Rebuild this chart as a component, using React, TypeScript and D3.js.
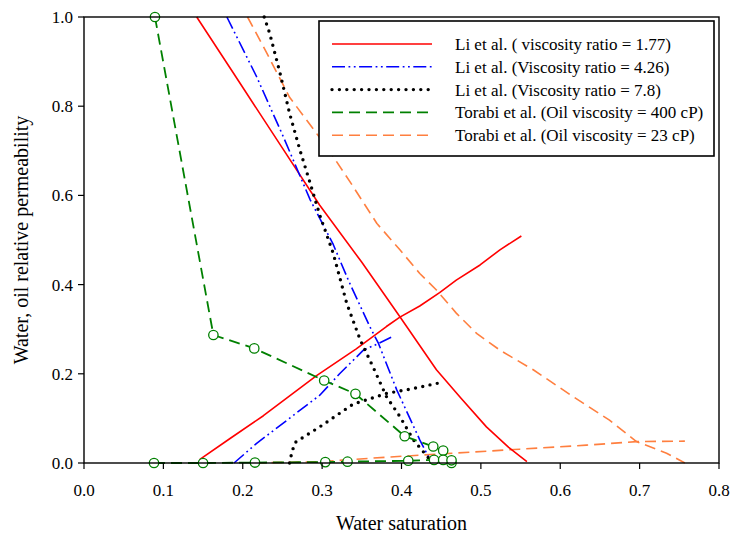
import React from "react";
import * as d3 from "d3";

type P = [number, number];

// Li et al. (viscosity ratio = 1.77)
const li177Oil: P[] = [[0.142,1.0],[0.196,0.853],[0.25,0.706],[0.297,0.578],[0.35,0.45],[0.398,0.328],[0.444,0.209],[0.475,0.145],[0.507,0.081],[0.535,0.035],[0.558,0.003]];
const li177Water: P[] = [[0.146,0.008],[0.184,0.055],[0.226,0.106],[0.293,0.196],[0.343,0.256],[0.381,0.306],[0.398,0.327],[0.423,0.352],[0.448,0.382],[0.469,0.41],[0.499,0.444],[0.524,0.478],[0.551,0.509]];
// Li et al. (Viscosity ratio = 4.26)
const li426Oil: P[] = [[0.18,1.0],[0.2175,0.866],[0.251,0.732],[0.285,0.59],[0.314,0.49],[0.333,0.41],[0.36,0.306],[0.371,0.268],[0.394,0.164],[0.423,0.052],[0.438,0.0]];
const li426Water: P[] = [[0.189,0.0],[0.2175,0.044],[0.297,0.152],[0.322,0.2],[0.352,0.253],[0.371,0.268],[0.388,0.283]];
// Li et al. (Viscosity ratio = 7.8)
const li78Oil: P[] = [[0.227,1.0],[0.234,0.963],[0.247,0.874],[0.259,0.784],[0.272,0.702],[0.285,0.627],[0.297,0.556],[0.314,0.47],[0.331,0.358],[0.348,0.276],[0.364,0.216],[0.381,0.149],[0.398,0.104],[0.415,0.052],[0.436,0.007]];
const li78Water: P[] = [[0.259,0.0],[0.262,0.025],[0.266,0.046],[0.28,0.062],[0.297,0.081],[0.339,0.132],[0.381,0.156],[0.415,0.167],[0.446,0.179]];
// Torabi et al. (Oil viscosity = 400 cP)
const torabi400Oil: P[] = [[0.0894,1.0],[0.163,0.287],[0.2145,0.257],[0.3026,0.185],[0.342,0.155],[0.404,0.06],[0.44,0.037],[0.4525,0.028],[0.463,0.0]];
const torabi400Water: P[] = [[0.0882,0.0],[0.15,0.0],[0.2154,0.001],[0.304,0.002],[0.332,0.003],[0.4085,0.005],[0.441,0.007],[0.4525,0.007],[0.463,0.006]];
// Torabi et al. (Oil viscosity = 23 cP)
const torabi23Oil: P[] = [[0.206,1.0],[0.23,0.92],[0.259,0.82],[0.293,0.739],[0.314,0.687],[0.339,0.62],[0.369,0.537],[0.398,0.478],[0.423,0.425],[0.444,0.388],[0.469,0.336],[0.495,0.29],[0.524,0.253],[0.566,0.209],[0.616,0.149],[0.662,0.096],[0.696,0.048],[0.734,0.022],[0.757,0.0]];
const torabi23Water: P[] = [[0.215,0.0],[0.297,0.003],[0.381,0.013],[0.465,0.022],[0.549,0.031],[0.633,0.04],[0.696,0.048],[0.757,0.049]];

const xTicks = [0, 0.1, 0.2, 0.3, 0.4, 0.5, 0.6, 0.7, 0.8];
const yTicks = [0, 0.2, 0.4, 0.6, 0.8, 1.0];
const legendLabels = [
  "Li et al. ( viscosity ratio = 1.77)",
  "Li et al. (Viscosity ratio = 4.26)",
  "Li et al. (Viscosity ratio = 7.8)",
  "Torabi et al. (Oil viscosity = 400 cP)",
  "Torabi et al. (Oil viscosity = 23 cP)",
];

const FONT = "'Liberation Serif', 'Times New Roman', serif";

const styles = [
  { stroke: "#ff0000", width: 1.6, dash: undefined as string | undefined, cap: "butt" },
  { stroke: "#0000ff", width: 1.6, dash: "13,3.5,1.8,3.5,1.8,3.5", cap: "butt" },
  { stroke: "#000000", width: 3.4, dash: "0,7.4", cap: "round" },
  { stroke: "#008000", width: 1.8, dash: "11,6", cap: "butt" },
  { stroke: "#ff7f3f", width: 1.6, dash: "11,6", cap: "butt" },
];

export default function App() {
  const W = 731, H = 540;
  const x = d3.scaleLinear().domain([0, 0.8]).range([84, 719]);
  const y = d3.scaleLinear().domain([0, 1]).range([463, 17]);
  const line = d3.line<P>().x(d => x(d[0])).y(d => y(d[1]));

  const series: { data: P[]; s: number }[] = [
    { data: torabi23Oil, s: 4 },
    { data: torabi23Water, s: 4 },
    { data: li177Oil, s: 0 },
    { data: li177Water, s: 0 },
    { data: li426Oil, s: 1 },
    { data: li426Water, s: 1 },
    { data: li78Oil, s: 2 },
    { data: li78Water, s: 2 },
    { data: torabi400Oil, s: 3 },
    { data: torabi400Water, s: 3 },
  ];

  const lgX = 319, lgY = 21, lgW = 395, lgH = 135;
  const rowY = (i: number) => 44 + i * 22.8;

  return (
    <svg width={W} height={H} style={{ position: "absolute", left: 0, top: 0, background: "#fff" }} fontFamily={FONT}>
      <rect x={0} y={0} width={W} height={H} fill="#fff" />
      {series.map((sr, i) => {
        const st = styles[sr.s];
        return (
          <path key={i} d={line(sr.data) || ""} fill="none" stroke={st.stroke} strokeWidth={st.width}
            strokeDasharray={st.dash} strokeLinecap={st.cap as any} strokeLinejoin="round" />
        );
      })}
      {[...torabi400Oil, ...torabi400Water].map((d, i) => (
        <circle key={"m" + i} cx={x(d[0])} cy={y(d[1])} r={4.7} fill="#fff" stroke="#008000" strokeWidth={1.3} />
      ))}
      {/* frame */}
      <rect x={x(0)} y={y(1)} width={x(0.8) - x(0)} height={y(0) - y(1)} fill="none" stroke="#000" strokeWidth={1.4} />
      {/* x ticks */}
      {xTicks.map((t, i) => (
        <g key={"xt" + i}>
          <line x1={x(t)} x2={x(t)} y1={y(0)} y2={y(0) + 6} stroke="#000" strokeWidth={1.2} />
          <text x={x(t)} y={y(0) + 33} textAnchor="middle" fontSize={17} fill="#000">{t.toFixed(1)}</text>
        </g>
      ))}
      {yTicks.map((t, i) => (
        <g key={"yt" + i}>
          <line x1={x(0) - 6} x2={x(0)} y1={y(t)} y2={y(t)} stroke="#000" strokeWidth={1.2} />
          <text x={x(0) - 11} y={y(t)} dy="0.35em" textAnchor="end" fontSize={17} fill="#000">{t.toFixed(1)}</text>
        </g>
      ))}
      <text x={(x(0) + x(0.8)) / 2} y={530} textAnchor="middle" fontSize={20} fill="#000">Water saturation</text>
      <text transform={`translate(28,${(y(0) + y(1)) / 2}) rotate(-90)`} textAnchor="middle" fontSize={20} fill="#000">Water, oil relative permeability</text>
      {/* legend */}
      <rect x={lgX} y={lgY} width={lgW} height={lgH} fill="#fff" stroke="#000" strokeWidth={1.6} />
      {legendLabels.map((lab, i) => {
        const st = styles[i];
        return (
          <g key={"lg" + i}>
            <line x1={332} x2={432} y1={rowY(i)} y2={rowY(i)} stroke={st.stroke} strokeWidth={st.width}
              strokeDasharray={st.dash} strokeLinecap={st.cap as any} />
            <text x={455} y={rowY(i)} dy="0.35em" fontSize={17} fill="#000">{lab}</text>
          </g>
        );
      })}
    </svg>
  );
}
